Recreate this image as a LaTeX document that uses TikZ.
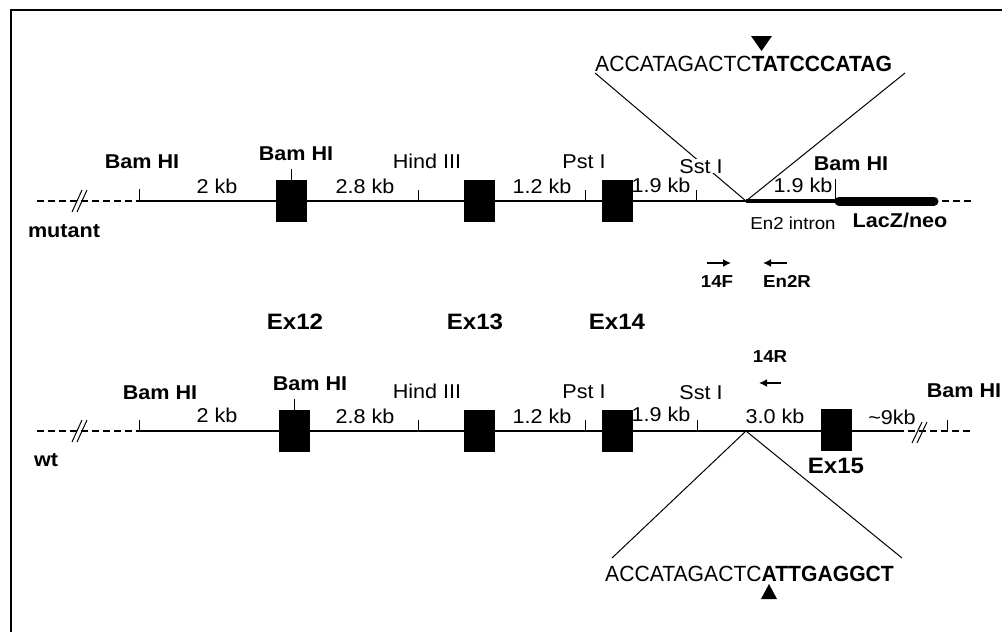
\documentclass[tikz,border=0pt]{standalone}
\usepackage{fontspec}
\setmainfont{Liberation Sans}[FakeStretch=1.08]
\newfontfamily\seqfont{Liberation Sans}[FakeStretch=0.96]
\usetikzlibrary{arrows.meta}
\begin{document}
\begin{tikzpicture}[x=1pt,y=-1pt,
 lbl/.style={inner sep=0pt, anchor=base, font=\fontsize{20}{23}\selectfont},
 blbl/.style={inner sep=0pt, anchor=base, font=\fontsize{20}{23}\selectfont\bfseries},
 slbl/.style={inner sep=0pt, anchor=base, font=\fontsize{17.3}{20}\selectfont},
 sblbl/.style={inner sep=0pt, anchor=base, font=\fontsize{17.3}{20}\selectfont\bfseries},
 exlbl/.style={inner sep=0pt, anchor=base, font=\fontsize{22.3}{26}\selectfont\bfseries},
 seq/.style={inner sep=0pt, anchor=base west, font=\fontsize{22}{26}\seqfont},
 exon/.style={fill=black, draw=black, minimum width=30pt, minimum height=41pt, inner sep=0pt},
 dna/.style={line width=1.2pt},
 flank/.style={line width=2pt, dash pattern=on 7pt off 4pt},
 tickmark/.style={line width=1pt},
 brk/.style={line width=1pt},
 primer/.style={line width=2pt, -{Latex[length=8pt,width=8pt]}},
 pointer/.style={fill=black},
]
\useasboundingbox (0,0) rectangle (1002,632);
\draw[line width=1.2pt] (11,632) -- (11,10) -- (1002,10);

% ---------------- mutant allele ----------------
\coordinate (mL) at (37,201);
\coordinate (mS) at (139,201);
\coordinate (jt) at (746,201);
\coordinate (mB) at (835,201);
\coordinate (mZ1) at (839,201);
\coordinate (mZ2) at (934,201);
\coordinate (mR1) at (942,201);
\coordinate (mR2) at (973,201);

\draw[flank] (mL) -- (mS);
\draw[brk] (72,212) -- (82,190) (77,212) -- (87,190);
\draw[dna] (mS) -- (jt);
\draw[line width=4pt] (jt) -- (mB);
\draw[line width=9pt, line cap=round] (mZ1) -- (mZ2);
\draw[flank] (mR1) -- (mR2);

\node[exon] (mx12) at (291,201) {};
\node[exon] (mx13) at (479,201) {};
\node[exon] (mx14) at (617.5,201) {};

\draw[tickmark] (139,189) -- (139,201);
\draw[tickmark] (mx12.north) -- ++(0,-11);
\draw[tickmark] (418,190) -- (418,201);
\draw[tickmark] (585,190) -- (585,201);
\draw[tickmark] (696,190) -- (696,201);
\draw[tickmark] (835,179) -- (835,201);

% inserted sequence (mutant)
\node[seq] (seqT) at (595,71) {ACCATAGACTC\textbf{TATCCCATAG}};
\coordinate (seqTL) at (595,73);
\coordinate (seqTR) at (905,73);
\draw[dna, line width=1pt] (seqTL) -- (jt) -- (seqTR);
\fill[pointer] (751,36) -- (772,36) -- (761.5,51) -- cycle;

\node[blbl] (mb1) at (142,168) {Bam HI};
\node[blbl] (mb2) at (296,160) {Bam HI};
\node[lbl] (mk1) at (217,193) {2 kb};
\node[lbl] (mk2) at (365,193) {2.8 kb};
\node[lbl] (mh) at (427,168) {Hind III};
\node[lbl] (mk3) at (542,193) {1.2 kb};
\node[lbl] (mp) at (584,168) {Pst I};
\node[lbl] (mk4) at (661,192) {1.9 kb};
\node[lbl, fill=white, inner xsep=1pt] (ms) at (701,173) {Sst I};
\node[lbl] (mk5) at (803,192) {1.9 kb};
\node[blbl] (mb3) at (851,170) {Bam HI};
\node[slbl] (en2) at (793,229) {En2 intron};
\node[blbl] (lacz) at (900,227) {LacZ/neo};
\node[blbl] (mut) at (64,237) {mutant};

% primers
\coordinate (f1) at (707,263);
\coordinate (f2) at (731,263);
\coordinate (r1) at (787,263);
\coordinate (r2) at (763,263);
\draw[primer] (f1) -- (f2);
\draw[primer] (r1) -- (r2);
\node[sblbl] (p14F) at (717,287) {14F};
\node[sblbl] (pEn2R) at (787,287) {En2R};

% exon names
\node[exlbl] (e12) at (295,329) {Ex12};
\node[exlbl] (e13) at (475,329) {Ex13};
\node[exlbl] (e14) at (617,329) {Ex14};

% ---------------- wild-type allele ----------------
\coordinate (wL) at (37,431);
\coordinate (wS) at (139,431);
\coordinate (jb) at (746,431);
\coordinate (wE) at (897,431);
\coordinate (wR) at (970,431);

\draw[flank] (wL) -- (wS);
\draw[brk] (72,442) -- (82,420) (77,442) -- (87,420);
\draw[dna] (wS) -- (wE);
\draw[flank] (wE) -- (wR);
\draw[brk] (912,443) -- (922,422) (917,443) -- (927,422);

\node[exon] (wx12) at (294,431) {};
\node[exon] (wx13) at (479,431) {};
\node[exon] (wx14) at (617.5,431) {};
\node[exon] (wx15) at (836.5,429.5) {};

\draw[tickmark] (139,420) -- (139,431);
\draw[tickmark] (wx12.north) -- ++(0,-11);
\draw[tickmark] (418,420) -- (418,431);
\draw[tickmark] (585,420) -- (585,431);
\draw[tickmark] (697,420) -- (697,431);
\draw[tickmark] (947,420) -- (947,431);

% wild-type sequence
\node[seq] (seqB) at (605,581) {ACCATAGACTC\textbf{ATTGAGGCT}};
\coordinate (seqBL) at (612,558);
\coordinate (seqBR) at (902,558);
\draw[dna, line width=1pt] (seqBL) -- (jb) -- (seqBR);
\fill[pointer] (761,599) -- (777,599) -- (769,584) -- cycle;

\node[blbl] (wb1) at (160,399) {Bam HI};
\node[blbl] (wb2) at (310,390) {Bam HI};
\node[lbl] (wk1) at (217,422) {2 kb};
\node[lbl] (wk2) at (365,423) {2.8 kb};
\node[lbl] (wh) at (427,398) {Hind III};
\node[lbl] (wk3) at (542,423) {1.2 kb};
\node[lbl] (wp) at (584,398) {Pst I};
\node[lbl] (wk4) at (661,421) {1.9 kb};
\node[lbl] (ws) at (701,399) {Sst I};
\node[lbl] (wk5) at (775,423) {3.0 kb};
\node[lbl] (wk6) at (892,424) {\textasciitilde9kb};
\node[blbl] (wb3) at (964,397) {Bam HI};
\node[exlbl] (e15) at (836,473) {Ex15};
\node[blbl] (wt) at (46,466) {wt};

\coordinate (q1) at (781,383);
\coordinate (q2) at (759,383);
\draw[primer] (q1) -- (q2);
\node[sblbl] (p14R) at (770,362) {14R};
\end{tikzpicture}
\end{document}
